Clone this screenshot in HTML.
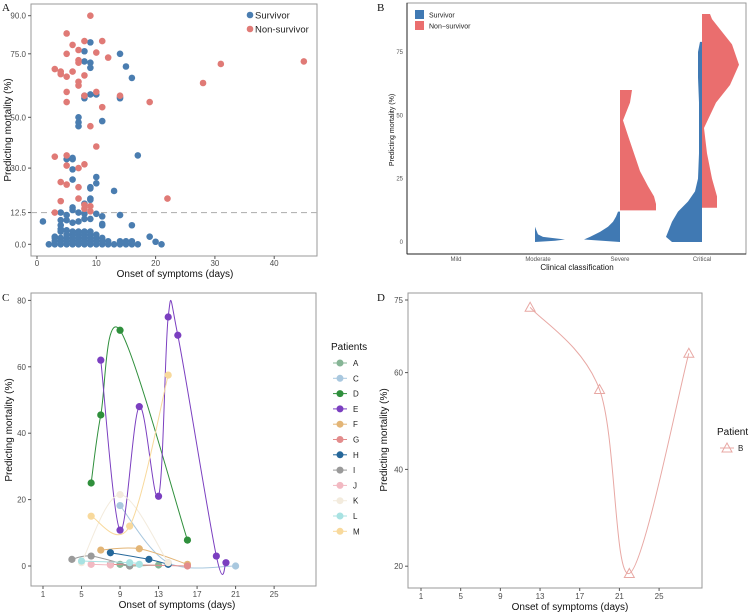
<!DOCTYPE html>
<html><head><meta charset="utf-8">
<style>
html,body{margin:0;padding:0;background:#fff;}
svg{display:block;font-family:"Liberation Sans",sans-serif;}
.tk{font-size:8px;fill:#4d4d4d;}
.tt{font-size:10px;fill:#111;}
.pl{font-family:"Liberation Serif",serif;font-size:11px;fill:#111;}
</style></head>
<body>
<svg id="fig" width="750" height="613" viewBox="0 0 750 613"></svg>
<script>
// ---------- Panel A data ----------
const survX=[9,8,14,8,9,9,15,16,8,9,10,8,14,14,7,7,7,11,6,6,5,6,17,10,6,10,9,9,13,9,9,8,6,6,4,10,14,11,5,7,8,1,4,5,6,7,8,9,11,11,16,4,4,4,5,3,19,20,21,
2,3,4,5,6,7,8,9,10,11,12,13,14,15,16,17,
3,4,5,6,7,8,9,10,11,12,14,15,16,
3,4,5,6,7,8,9,10,11,
5,6,7,8,9,10,
6,7,8,9];
const survY=[79.5,76,75,72,71.5,69.5,70,65.5,58.5,59,59,57.5,58,57.5,50,48,46.5,48.5,34,33.5,33.5,29.5,35,26.5,25.5,24,22.5,22,21,18,17.5,16,14.5,13.5,12.5,12,11.5,11,11.5,12.5,12,9,9.5,9.5,8.5,9,10,10,8,7.5,7.5,7.5,6,5,5.5,3,3,1,0,
0,0,0,0,0,0,0,0,0,0,0,0,0,0,0,0,
1.2,1.2,1.2,1.2,1.2,1.2,1.2,1.2,1.2,1.2,1.2,1.2,1.2,
2.5,2.5,2.5,2.5,2.5,2.5,2.5,2.5,2.5,
3.8,3.8,3.8,3.8,3.8,3.8,
5,5,5,5];
const nonX=[9,5,11,6,8,7,5,10,12,7,7,3,4,4,6,5,8,7,7,5,10,8,14,5,19,11,9,10,3,5,5,8,7,4,5,7,4,7,22,8,9,8,9,3,28,31,45];
const nonY=[90,83,80,78.5,80,76.5,75,75.5,73.5,72.5,71.5,69,68,67,68,66,66.5,64,62.5,60,60,58.5,58.5,56,56,54,46.5,38.5,34.5,35,31,31.5,30,24.5,23.5,22.5,17,18,18,15.5,15,14,13,12.5,63.5,71,72];
const aXTicks=[0,10,20,30,40];
const aYTicks=[0,12.5,30,50,75,90];
const aYLabels=["0.0","12.5","30.0","50.0","75.0","90.0"];
// ---------- Panel B data ----------
const bCats=["Mild","Moderate","Severe","Critical"];
const bYTicks=[0,25,50,75];
// violins: category index, group, side(-1 left,+1 right), y levels, density widths
const vCat=[1,2,2,3,3];
const vGroup=["s","s","n","s","n"];
const vSide=[1,-1,1,-1,1];
const vYs=[
 [0,0.5,1,2,3,5,6],
 [0,1,2,4,6,8,10,12],
 [12.5,15,18,22,28,35,42,48,55,60],
 [0,2,4,8,12,16,20,25,35,45,55,65,75,79],
 [13.5,18,25,35,45,55,62,70,78,84,88,90]];
const vWs=[
 [0,20,30,8,3,1,0],
 [0,36,30,20,12,7,4,2],
 [36,36,34,28,20,14,8,3,10,12],
 [30,36,34,30,24,14,7,4,3,3,3,4,4,2],
 [15,15,10,5,2,14,28,37,30,18,10,8]];
// ---------- Panel C data ----------
const cIds=["A","C","D","E","F","G","H","I","J","K","L","M"];
const cCols=["#86b596","#a9c8df","#2f8f3c","#7b3fc0","#e3b576","#e38c8c","#25679a","#9a9a9a","#f2b9c2","#f3ebdd","#a8e2e2","#f8d99c"];
const cXs=[[9,10,13],[9,14,21],[6,7,9,16],[7,9,11,13,14,15,19,20],[7,11,16],[8,16],[8,12,14],[4,6,10],[6,8],[5,9,14],[5,10,11],[6,10,14]];
const cYsv=[[0.5,0,0.3],[18.2,1,0],[25,45.5,71,7.8],[62,10.8,48,21,75,69.5,3,1],[4.8,5.2,0.5],[0.5,0],[4,2,0.5],[2,3,0],[0.5,0.3],[1,21.5,1],[1.5,1,0.5],[15,12,57.5]];
const cXTicks=[1,5,9,13,17,21,25];
const cYTicks=[0,20,40,60,80];
// ---------- Panel D data ----------
const dX=[12,19,22,28];
const dY=[73.5,56.5,18.5,64];
const dXTicks=[1,5,9,13,17,21,25];
const dYTicks=[20,40,60,75];

const NS="http://www.w3.org/2000/svg";
const svg=document.getElementById('fig');
function mk(tag,attrs,parent){const e=document.createElementNS(NS,tag);for(const k in attrs)e.setAttribute(k,attrs[k]);(parent||svg).appendChild(e);return e;}
function txt(s,attrs,parent){const e=mk('text',attrs,parent);e.textContent=s;return e;}
function spline(pts){
 if(pts.length<2)return '';
 let d='M'+pts[0][0]+','+pts[0][1];
 for(let i=0;i<pts.length-1;i++){
  const p0=pts[Math.max(i-1,0)],p1=pts[i],p2=pts[i+1],p3=pts[Math.min(i+2,pts.length-1)];
  const c1=[p1[0]+(p2[0]-p0[0])/6,p1[1]+(p2[1]-p0[1])/6];
  const c2=[p2[0]-(p3[0]-p1[0])/6,p2[1]-(p3[1]-p1[1])/6];
  d+=' C'+c1[0]+','+c1[1]+' '+c2[0]+','+c2[1]+' '+p2[0]+','+p2[1];
 }
 return d;
}

// ===== Panel A =====
const ax=v=>37+v*5.93, ay=v=>244.3-v*2.54;
let t=txt('A',{x:2,y:11,class:'pl'});

let r=mk('rect',{x:31,y:4,width:286,height:252,fill:'none',stroke:'#9a9a9a','stroke-width':1});

let ga=mk('g',{});
aYTicks.forEach((v,i)=>{mk('line',{x1:28,x2:31,y1:ay(v),y2:ay(v),stroke:'#555'},ga);txt(aYLabels[i],{x:26,y:ay(v)+3,class:'tk','text-anchor':'end'},ga);});
let gax=mk('g',{});
aXTicks.forEach(v=>{mk('line',{x1:ax(v),x2:ax(v),y1:256,y2:259,stroke:'#555'},gax);txt(String(v),{x:ax(v),y:266,class:'tk','text-anchor':'middle'},gax);});
let dl=mk('line',{x1:31,x2:317,y1:ay(12.5),y2:ay(12.5),stroke:'#b5b5b5','stroke-width':1.2,'stroke-dasharray':'6,4'});

let gs=mk('g',{fill:'#4a7db0'});
survX.forEach((x,i)=>{const c=mk('circle',{cx:ax(x),cy:ay(survY[i]),r:3.3},gs);

});
let gn=mk('g',{fill:'#e07a76'});
nonX.forEach((x,i)=>{const c=mk('circle',{cx:ax(x),cy:ay(nonY[i]),r:3.3},gn);

});
let la=mk('g',{});
mk('circle',{cx:250,cy:15,r:3.3,fill:'#4a7db0'},la);txt('Survivor',{x:255,y:18.5,'font-size':'9.5px',fill:'#222'},la);
mk('circle',{cx:250,cy:29,r:3.3,fill:'#e07a76'},la);txt('Non-survivor',{x:255,y:32.5,'font-size':'9.5px',fill:'#222'},la);
t=txt('Onset of symptoms (days)',{x:175,y:277,class:'tt','text-anchor':'middle'});

t=txt('Predicting mortality (%)',{x:0,y:0,class:'tt','text-anchor':'middle',transform:'translate(11,130) rotate(-90)'});


// ===== Panel B =====
const bx=i=>456+i*82, by=v=>242-v*2.533;
t=txt('B',{x:377,y:11,class:'pl'});

r=mk('rect',{x:407,y:3,width:339,height:251,fill:'none',stroke:'#9a9a9a'});

mk('line',{x1:407,x2:407,y1:3,y2:254,stroke:'#222'});mk('line',{x1:407,x2:746,y1:254,y2:254,stroke:'#222'});
let gbv=mk('g',{});
vCat.forEach((c,i)=>{
 const cx=bx(c)+(c===1?-3:0), s=vSide[i];
 let d='M'+cx+','+by(vYs[i][0]);
 vYs[i].forEach((y,j)=>{d+=' L'+(cx+s*vWs[i][j])+','+by(y);});
 d+=' L'+cx+','+by(vYs[i][vYs[i].length-1])+' Z';
 const p=mk('path',{d:d,fill:vGroup[i]==='s'?'#4079b3':'#ea6e6e','stroke-linejoin':'round'},gbv);
 
 
});
let gby=mk('g',{});
bYTicks.forEach(v=>txt(String(v),{x:403,y:by(v)+2,'font-size':'6px',fill:'#555','text-anchor':'end'},gby));
let gbx=mk('g',{});
bCats.forEach((c,i)=>txt(c,{x:bx(i),y:261,'font-size':'6px',fill:'#555','text-anchor':'middle'},gbx));
let lb=mk('g',{});
mk('rect',{x:415,y:10,width:9,height:9,fill:'#4079b3'},lb);txt('Survivor',{x:429,y:17.5,'font-size':'7px',fill:'#222'},lb);
mk('rect',{x:415,y:21,width:9,height:9,fill:'#ea6e6e'},lb);txt('Non\u2212survivor',{x:429,y:28.5,'font-size':'7px',fill:'#222'},lb);
t=txt('Clinical classification',{x:577,y:270,'font-size':'8px',fill:'#111','text-anchor':'middle'});

t=txt('Predicting mortality (%)',{x:0,y:0,'font-size':'7px',fill:'#111','text-anchor':'middle',transform:'translate(394,130) rotate(-90)'});


// ===== Panel C =====
const cx_=v=>43+(v-1)*9.63, cy_=v=>566-v*3.32;
t=txt('C',{x:2,y:301,class:'pl'});

r=mk('rect',{x:31,y:293,width:285,height:293,fill:'none',stroke:'#9a9a9a'});

let gcy=mk('g',{});
cYTicks.forEach(v=>{mk('line',{x1:28,x2:31,y1:cy_(v),y2:cy_(v),stroke:'#555'},gcy);txt(String(v),{x:26,y:cy_(v)+3,class:'tk','text-anchor':'end'},gcy);});
let gcx=mk('g',{});
cXTicks.forEach(v=>{mk('line',{x1:cx_(v),x2:cx_(v),y1:586,y2:589,stroke:'#555'},gcx);txt(String(v),{x:cx_(v),y:597,class:'tk','text-anchor':'middle'},gcx);});
cIds.forEach((id,k)=>{
 const g=mk('g',{});
 
 
 const pts=cXs[k].map((x,j)=>[cx_(x),cy_(cYsv[k][j])]);
 mk('path',{d:spline(pts),fill:'none',stroke:cCols[k],'stroke-width':1},g);
 pts.forEach(p=>{const c=mk('circle',{cx:p[0],cy:p[1],r:3.6,fill:cCols[k]},g);
 
 });
});
let lc=mk('g',{});
txt('Patients',{x:331,y:350,'font-size':'10px',fill:'#111'},lc);
cIds.forEach((id,k)=>{const y=363+k*15.3;
 mk('line',{x1:333,x2:347,y1:y,y2:y,stroke:cCols[k]},lc);
 mk('circle',{cx:340,cy:y,r:3.5,fill:cCols[k]},lc);
 txt(id,{x:353,y:y+3,'font-size':'8px',fill:'#222'},lc);});
t=txt('Onset of symptoms (days)',{x:177,y:608,'font-size':'10px',fill:'#111','text-anchor':'middle'});

t=txt('Predicting mortality (%)',{x:0,y:0,class:'tt','text-anchor':'middle',transform:'translate(12,430) rotate(-90)'});


// ===== Panel D =====
const dx_=v=>421+(v-1)*9.92, dy_=v=>300+(75-v)*4.84;
t=txt('D',{x:377,y:301,class:'pl'});

r=mk('rect',{x:408,y:293,width:294,height:295,fill:'none',stroke:'#9a9a9a'});

let gdy=mk('g',{});
dYTicks.forEach(v=>{mk('line',{x1:405,x2:408,y1:dy_(v),y2:dy_(v),stroke:'#555'},gdy);txt(String(v),{x:403,y:dy_(v)+3,class:'tk','text-anchor':'end'},gdy);});
let gdx=mk('g',{});
dXTicks.forEach(v=>{mk('line',{x1:dx_(v),x2:dx_(v),y1:588,y2:591,stroke:'#555'},gdx);txt(String(v),{x:dx_(v),y:599,class:'tk','text-anchor':'middle'},gdx);});
let gd=mk('g',{});
const dp=dX.map((x,i)=>[dx_(x),dy_(dY[i])]);
mk('path',{d:spline(dp),fill:'none',stroke:'#e8a8a4','stroke-width':1},gd);
dp.forEach(p=>{const m=mk('path',{d:'M'+(p[0]-5)+','+(p[1]+4)+' L'+p[0]+','+(p[1]-5)+' L'+(p[0]+5)+','+(p[1]+4)+' Z',fill:'none',stroke:'#e8a8a4'},gd);

});
let ld=mk('g',{});
txt('Patient',{x:717,y:435,'font-size':'10px',fill:'#111'},ld);
mk('line',{x1:720,x2:734,y1:448,y2:448,stroke:'#e8a8a4'},ld);
mk('path',{d:'M722,452 L727,443 L732,452 Z',fill:'none',stroke:'#e8a8a4'},ld);
txt('B',{x:738,y:451,'font-size':'8px',fill:'#222'},ld);
t=txt('Onset of symptoms (days)',{x:570,y:610,'font-size':'10px',fill:'#111','text-anchor':'middle'});

t=txt('Predicting mortality (%)',{x:0,y:0,class:'tt','text-anchor':'middle',transform:'translate(387,440) rotate(-90)'});

</script>
</body></html>
